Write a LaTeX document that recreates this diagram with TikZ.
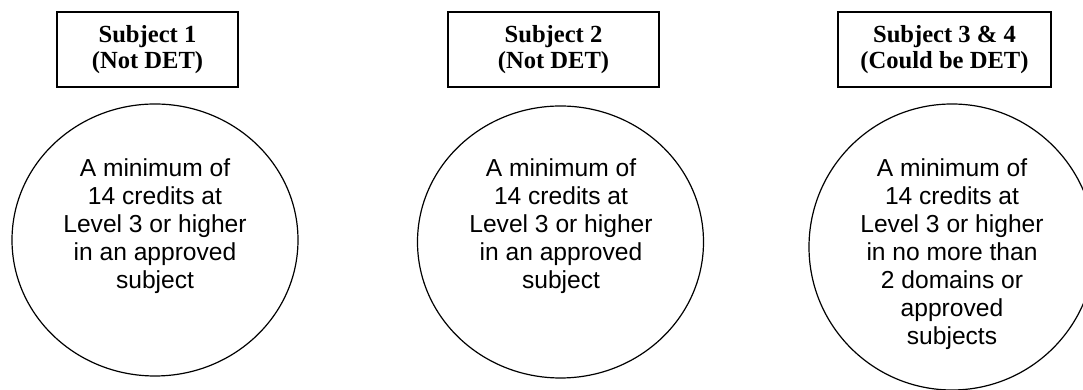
\documentclass[tikz,border=0pt]{standalone}
\usepackage{fontspec}
\setmainfont{Liberation Serif}
\newfontfamily\arialfont{Liberation Sans}
\usetikzlibrary{shapes.geometric, positioning}

\tikzset{
  subjbox/.style={draw, line width=0.85pt, font=\bfseries\fontsize{12.3}{13.4}\selectfont, align=center, minimum height=37.5pt, inner sep=0pt},
  reqshape/.style={draw, ellipse, line width=0.6pt, minimum width=143pt, minimum height=136pt, inner sep=0pt},
  reqtext/.style={font=\arialfont\fontsize{12.3}{14}\selectfont, align=center, inner sep=0pt}
}

\begin{document}
\begin{tikzpicture}[x=0.5pt, y=0.5pt]
			\clip (0,0) rectangle (1083,390);
			\useasboundingbox (0,0) rectangle (1083,390);
			% headings
			\node[subjbox, minimum width=90.5pt] (s1) at (147.5,340.5) {Subject 1\\(Not DET)};
			\node[subjbox, minimum width=105.5pt] (s2) at (553.5,340.5) {Subject 2\\(Not DET)};
			\node[subjbox, minimum width=106.5pt] (s3) at (944.5,340.5) {Subject 3 \& 4\\(Could be DET)};
			
			% requirements
			\node[reqshape] (e1) at (155,150) {};
			\node[reqshape] (e2) at (560.5,148) {};
			\node[reqshape, minimum height=143pt] (e3) at (952,143) {};
			\node[reqtext] (t1) at (155,164) {A minimum of\\14 credits at\\Level 3 or higher\\in an approved\\subject};
			\node[reqtext] (t2) at (561,164) {A minimum of\\14 credits at\\Level 3 or higher\\in an approved\\subject};
			\node[reqtext] (t3) at (952,136) {A minimum of\\14 credits at\\Level 3 or higher\\in no more than\\2 domains or\\approved\\subjects};
		\end{tikzpicture}
\end{document}
